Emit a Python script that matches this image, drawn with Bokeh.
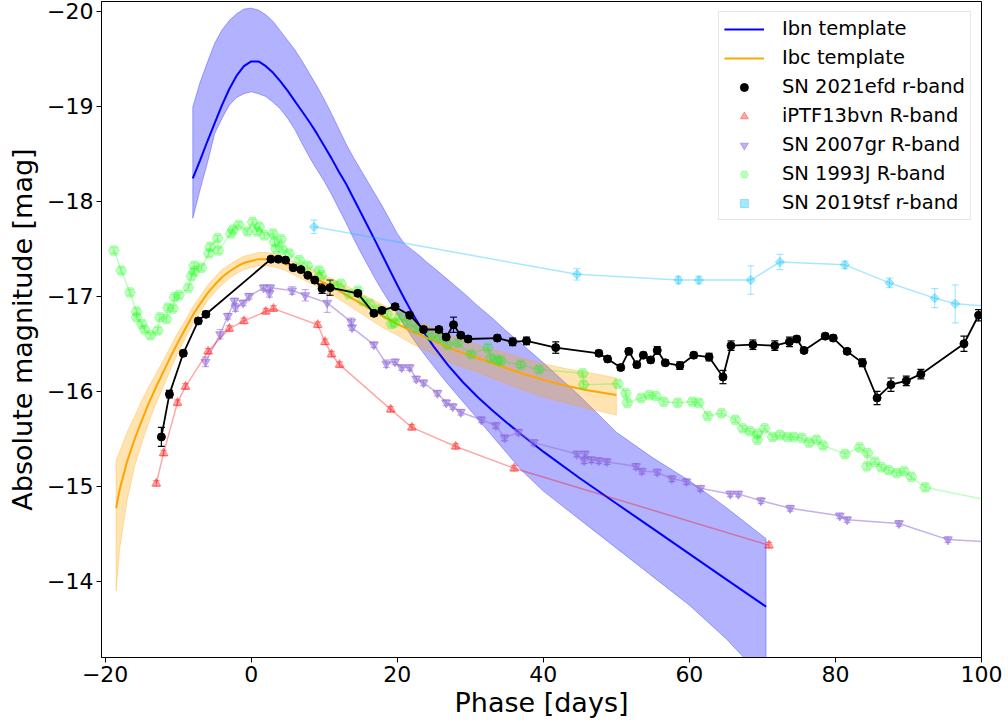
from bokeh.plotting import figure
from bokeh.models import (Range1d, FixedTicker, CustomJSTickFormatter, Whisker, TeeHead,
                          ColumnDataSource, Legend, LegendItem)
from bokeh.embed import file_html
from bokeh.resources import INLINE

# ---------------- data ----------------
# Ibn template (phase, median mag, bright edge, faint edge)
ibn_phase = [-8, -7, -6, -5, -4, -3, -2, -1, 0, 1, 2, 3, 4, 5, 6, 7, 8, 9, 10, 11, 12, 13, 14, 15,
             16, 17, 18, 19, 20, 21, 22, 23, 24, 25, 27, 29, 31, 33, 35, 37, 40, 45, 50, 55, 60, 65, 70.5]
ibn_mag = [-18.24, -18.43, -18.63, -18.82, -19.01, -19.18, -19.32, -19.42, -19.47, -19.47, -19.42, -19.35,
           -19.26, -19.16, -19.05, -18.94, -18.83, -18.71, -18.58, -18.45, -18.31, -18.18, -18.03, -17.88,
           -17.73, -17.58, -17.425, -17.27, -17.118, -16.97, -16.83, -16.70, -16.58, -16.47, -16.27, -16.095,
           -15.94, -15.80, -15.67, -15.545, -15.365, -15.085, -14.82, -14.555, -14.29, -14.025, -13.735]
ibn_upper = [-18.99, -19.25, -19.46, -19.66, -19.80, -19.90, -19.97, -20.02, -20.03, -20.01, -19.96, -19.89,
             -19.79, -19.69, -19.59, -19.47, -19.34, -19.21, -19.07, -18.92, -18.76, -18.60, -18.46, -18.33,
             -18.20, -18.07, -17.94, -17.80, -17.66, -17.55, -17.49, -17.43, -17.36, -17.30, -17.17, -17.04,
             -16.90, -16.77, -16.63, -16.50, -16.30, -15.95, -15.57, -15.30, -15.06, -14.78, -14.45]
ibn_lower = [-17.82, -18.12, -18.40, -18.71, -18.87, -19.01, -19.09, -19.13, -19.15, -19.13, -19.10, -19.04,
             -18.97, -18.87, -18.75, -18.60, -18.46, -18.33, -18.21, -18.07, -17.92, -17.77, -17.61, -17.46,
             -17.32, -17.18, -17.05, -16.93, -16.81, -16.69, -16.57, -16.46, -16.36, -16.26, -16.07, -15.89,
             -15.71, -15.53, -15.35, -15.17, -14.95, -14.65, -14.35, -14.05, -13.75, -13.40, -12.95]

# Ibc template
ibc_phase = [-18.5, -18, -17, -16, -15, -14, -13, -12, -11, -10, -9, -8, -7, -6, -5, -4, -3, -2, -1, 0,
             1, 2, 3, 4, 5, 6, 8, 10, 12, 14, 16, 18, 20, 22, 25, 28, 31, 34, 37, 40, 43, 46, 50]
ibc_mag = [-14.77, -14.97, -15.26, -15.49, -15.69, -15.88, -16.05, -16.21, -16.37, -16.52, -16.66, -16.80,
           -16.92, -17.03, -17.12, -17.20, -17.26, -17.31, -17.35, -17.37, -17.39, -17.39, -17.38, -17.36,
           -17.33, -17.29, -17.22, -17.14, -17.06, -16.97, -16.88, -16.79, -16.71, -16.63, -16.53, -16.43,
           -16.35, -16.27, -16.19, -16.12, -16.06, -16.01, -15.96]
ibc_upper = [-15.27, -15.37, -15.57, -15.73, -15.90, -16.05, -16.19, -16.33, -16.48, -16.62, -16.75, -16.89,
             -17.00, -17.11, -17.20, -17.28, -17.33, -17.38, -17.42, -17.44, -17.46, -17.46, -17.45, -17.43,
             -17.40, -17.36, -17.30, -17.22, -17.15, -17.07, -16.99, -16.91, -16.83, -16.76, -16.66, -16.57,
             -16.49, -16.42, -16.35, -16.29, -16.24, -16.20, -16.14]
ibc_lower = [-13.90, -14.35, -14.85, -15.20, -15.45, -15.68, -15.88, -16.05, -16.24, -16.41, -16.56, -16.71,
             -16.83, -16.95, -17.04, -17.12, -17.19, -17.24, -17.28, -17.30, -17.32, -17.32, -17.31, -17.29,
             -17.26, -17.22, -17.14, -17.06, -16.97, -16.87, -16.77, -16.67, -16.59, -16.50, -16.39, -16.28,
             -16.20, -16.11, -16.02, -15.94, -15.88, -15.82, -15.75]

# SN 2021efd r-band
efd_phase = [-12.3, -11.2, -9.3, -7.25, -6.2, 2.7, 3.7, 4.7, 5.75, 6.8, 7.75, 8.7, 9.7, 10.8, 14.6, 16.8,
             17.9, 19.7, 21.7, 23.6, 25.7, 26.7, 27.7, 28.7, 29.7, 33.7, 35.8, 37.7, 41.7, 47.6, 48.8, 50.6,
             51.7, 52.8, 53.7, 54.7, 55.6, 56.7, 58.7, 60.6, 62.7, 64.6, 65.7, 68.7, 71.7, 73.7, 74.7, 75.7,
             78.6, 79.7, 81.6, 83.7, 85.7, 87.6, 89.7, 91.7, 97.6, 99.6]
efd_mag = [-15.52, -15.97, -16.40, -16.74, -16.81, -17.39, -17.39, -17.38, -17.30, -17.28, -17.22, -17.17,
           -17.08, -17.09, -17.03, -16.82, -16.85, -16.89, -16.80, -16.65, -16.65, -16.57, -16.70, -16.59,
           -16.55, -16.56, -16.52, -16.53, -16.46, -16.40, -16.34, -16.25, -16.42, -16.28, -16.38, -16.33,
           -16.43, -16.30, -16.27, -16.38, -16.36, -16.15, -16.48, -16.49, -16.48, -16.52, -16.55, -16.43,
           -16.58, -16.56, -16.42, -16.30, -15.93, -16.07, -16.11, -16.18, -16.50, -16.80]
efd_err = [0.10, 0.04, 0.03, 0.03, 0.03, 0.02, 0.02, 0.02, 0.03, 0.02, 0.02, 0.03, 0.05, 0.08, 0.03,
           0.03, 0.03, 0.03, 0.03, 0.03, 0.03, 0.03, 0.08, 0.03, 0.03, 0.03, 0.04, 0.04, 0.06, 0.03,
           0.03, 0.03, 0.03, 0.03, 0.03, 0.03, 0.04, 0.03, 0.04, 0.03, 0.04, 0.07, 0.05, 0.05, 0.05,
           0.05, 0.03, 0.03, 0.03, 0.03, 0.03, 0.04, 0.07, 0.07, 0.05, 0.05, 0.08, 0.06]

# iPTF13bvn R-band
bvn_phase = [-13.0, -12.0, -10.1, -9.0, -5.9, -3.0, -1.0, 2.0, 3.05, 9.1, 10.1, 11.0, 12.1, 19.1, 22.0,
             28.0, 36.0, 70.9]
bvn_mag = [-15.03, -15.35, -15.88, -16.05, -16.42, -16.66, -16.74, -16.84, -16.87, -16.70, -16.52, -16.39,
           -16.28, -15.81, -15.62, -15.42, -15.19, -14.38]
bvn_err = [0.03, 0.03, 0.03, 0.03, 0.03, 0.03, 0.03, 0.03, 0.03, 0.03, 0.03, 0.03, 0.03, 0.03, 0.03,
           0.03, 0.03, 0.03]

# SN 2007gr R-band
gr_phase = [-6.25, -4.25, -3.2, -2.3, -2.15, -1.1, -0.3, 1.7, 2.5, 2.6, 5.6, 7.4, 10.4, 13.7, 13.8, 16.8,
            18.5, 19.7, 20.6, 21.7, 22.6, 23.6, 25.5, 26.7, 27.6, 28.7, 31.5, 33.5, 34.7, 36.6, 38.7, 44.6,
            45.6, 45.7, 46.6, 47.6, 48.7, 52.7, 53.5, 55.6, 57.6, 59.6, 61.5, 65.6, 66.7, 69.8, 73.8, 80.6,
            81.6, 88.7, 95.4, 105.0]
gr_mag = [-16.31, -16.60, -16.79, -16.95, -16.88, -16.93, -17.00, -17.09, -17.03, -17.09, -17.06, -17.01,
          -16.93, -16.73, -16.67, -16.49, -16.29, -16.31, -16.25, -16.25, -16.13, -16.09, -15.98, -15.88,
          -15.84, -15.78, -15.70, -15.64, -15.51, -15.57, -15.46, -15.34, -15.27, -15.34, -15.28, -15.27,
          -15.26, -15.21, -15.16, -15.15, -15.08, -15.05, -14.98, -14.92, -14.92, -14.85, -14.77, -14.69,
          -14.65, -14.61, -14.44, -14.40]
gr_err = [0.05, 0.05, 0.03, 0.03, 0.04, 0.03, 0.03, 0.03, 0.04, 0.03, 0.04, 0.06, 0.10, 0.04, 0.03,
          0.03, 0.04, 0.03, 0.03, 0.03, 0.03, 0.03, 0.03, 0.03, 0.03, 0.03, 0.03, 0.03, 0.03, 0.03,
          0.03, 0.03, 0.03, 0.03, 0.03, 0.03, 0.03, 0.03, 0.03, 0.03, 0.03, 0.03, 0.03, 0.03, 0.03,
          0.03, 0.03, 0.03, 0.03, 0.03, 0.03, 0.03]

# SN 1993J R-band
j_phase = [-18.8, -17.8, -16.6, -15.7, -15.7, -15.0, -14.6, -13.8, -12.8, -12.5, -11.6, -11.4, -10.7, -10.5,
           -9.9, -8.6, -8.2, -7.8, -7.8, -6.8, -5.8, -5.6, -4.6, -4.5, -2.8, -2.5, -1.7, -0.5, 0.2, 0.8,
           1.1, 1.8, 3.0, 3.2, 3.4, 4.1, 4.3, 5.2, 6.6, 7.7, 9.3, 9.6, 11.4, 12.3, 13.4, 14.6, 15.3, 16.2,
           17.3, 18.6, 19.2, 19.6, 20.3, 21.4, 22.6, 24.6, 25.8, 26.9, 28.3, 30.1, 32.4, 32.8, 33.7, 34.2,
           36.9, 39.4, 45.4, 45.5, 50.2, 51.3, 51.5, 53.4, 54.5, 55.4, 56.5, 58.4, 60.4, 61.3, 62.5, 64.4,
           66.3, 67.3, 68.3, 69.3, 69.3, 70.3, 71.4, 72.4, 73.4, 74.3, 75.4, 76.4, 77.4, 78.3, 81.3, 83.3,
           84.4, 84.3, 85.4, 86.3, 87.3, 88.4, 89.4, 90.4, 92.3, 110.0]
j_mag = [-17.48, -17.27, -17.04, -16.84, -16.78, -16.71, -16.65, -16.59, -16.64, -16.78, -16.76, -16.88,
         -16.87, -16.99, -17.01, -17.09, -17.21, -17.26, -17.32, -17.30, -17.45, -17.52, -17.61, -17.48,
         -17.66, -17.70, -17.75, -17.68, -17.78, -17.68, -17.73, -17.64, -17.66, -17.57, -17.50, -17.60,
         -17.49, -17.45, -17.38, -17.32, -17.27, -17.22, -17.11, -17.13, -17.02, -17.06, -16.95, -16.92,
         -16.86, -16.81, -16.71, -16.72, -16.78, -16.72, -16.66, -16.58, -16.56, -16.49, -16.51, -16.39,
         -16.46, -16.35, -16.33, -16.32, -16.28, -16.23, -16.19, -16.07, -16.08, -15.98, -15.88, -15.93,
         -15.96, -15.95, -15.89, -15.88, -15.89, -15.88, -15.74, -15.77, -15.70, -15.61, -15.58, -15.55,
         -15.49, -15.61, -15.52, -15.54, -15.52, -15.52, -15.51, -15.46, -15.49, -15.43, -15.34, -15.41,
         -15.35, -15.21, -15.26, -15.20, -15.17, -15.14, -15.16, -15.10, -14.99, -14.71]
j_err = [0.03] * len(j_phase)

# SN 2019tsf r-band
tsf_phase = [8.6, 44.6, 58.5, 61.3, 68.4, 72.4, 81.3, 87.4, 93.6, 96.4, 105.0]
tsf_mag = [-17.73, -17.23, -17.17, -17.17, -17.17, -17.36, -17.33, -17.14, -16.98, -16.92, -16.87]
tsf_err = [0.07, 0.06, 0.04, 0.04, 0.15, 0.08, 0.04, 0.05, 0.10, 0.20, 0.05]

x_ticks = [-20, 0, 20, 40, 60, 80, 100]
y_ticks = [-20, -19, -18, -17, -16, -15, -14]

# ---------------- figure ----------------
FONT = "DejaVu Sans"
p = figure(width=1008, height=724, output_backend="svg", toolbar_location=None,
           x_range=Range1d(-20.5, 100), y_range=Range1d(-13.2, -20.1),
           min_border_left=101, min_border_right=27, min_border_top=1, min_border_bottom=67,
           background_fill_color="white", border_fill_color="white")

p.grid.visible = False
p.outline_line_color = "black"
p.outline_line_width = 1
p.outline_line_alpha = 1

minus_fmt = "return (tick < 0 ? '\\u2212' : '') + Math.abs(tick).toFixed(0);"
p.xaxis.ticker = FixedTicker(ticks=x_ticks)
p.yaxis.ticker = FixedTicker(ticks=y_ticks)
p.xaxis.formatter = CustomJSTickFormatter(code=minus_fmt)
p.yaxis.formatter = CustomJSTickFormatter(code=minus_fmt)
p.xaxis.axis_label = "Phase [days]"
p.yaxis.axis_label = "Absolute magnitude [mag]"
for ax in (p.xaxis, p.yaxis):
    ax.major_label_text_font = FONT
    ax.major_label_text_font_size = "22px"
    ax.major_label_text_color = "black"
    ax.axis_label_text_font = FONT
    ax.axis_label_text_font_size = "27px"
    ax.axis_label_text_font_style = "normal"
    ax.axis_label_text_color = "black"
    ax.minor_tick_line_color = None
    ax.major_tick_out = 5
    ax.major_tick_in = 0
    ax.major_tick_line_color = "black"
    ax.axis_line_color = "black"
p.xaxis.major_label_standoff = 3
p.xaxis.axis_label_standoff = 2
p.yaxis.major_label_standoff = 3
p.yaxis.axis_label_standoff = 6


def band(px, lo, hi, color):
    xs = list(px) + list(px)[::-1]
    ys = list(hi) + list(lo)[::-1]
    p.patch(xs, ys, fill_color=color, fill_alpha=0.3, line_color=color, line_alpha=0.3, line_width=1)


band(ibn_phase, ibn_lower, ibn_upper, "blue")
band(ibc_phase, ibc_lower, ibc_upper, "orange")
r_ibn = p.line(ibn_phase, ibn_mag, line_color="blue", line_width=2)
r_ibc = p.line(ibc_phase, ibc_mag, line_color="orange", line_width=2)


def series(px, mag, err, color, alpha, marker, size, angle=0.0, lw=1.5):
    src = ColumnDataSource(dict(x=px, y=mag,
                                lower=[m - e for m, e in zip(mag, err)],
                                upper=[m + e for m, e in zip(mag, err)]))
    p.line("x", "y", source=src, line_color=color, line_alpha=alpha, line_width=lw)
    w = Whisker(source=src, base="x", lower="lower", upper="upper", dimension="height",
                line_color=color, line_alpha=alpha, line_width=1.2,
                upper_head=TeeHead(size=7, line_color=color, line_alpha=alpha, line_width=1.2),
                lower_head=TeeHead(size=7, line_color=color, line_alpha=alpha, line_width=1.2))
    p.add_layout(w)
    r = p.scatter("x", "y", source=src, marker=marker, size=size, angle=angle,
                  fill_color=color, fill_alpha=alpha, line_color=color, line_alpha=alpha, line_width=1)
    return r


r_j = series(j_phase, j_mag, j_err, "lime", 0.25, "hex", 11)
r_tsf = series(tsf_phase, tsf_mag, tsf_err, "deepskyblue", 0.35, "square", 6.5, angle=0.785398)
r_gr = series(gr_phase, gr_mag, gr_err, "mediumpurple", 0.55, "inverted_triangle", 9)
r_bvn = series(bvn_phase, bvn_mag, bvn_err, "red", 0.35, "triangle", 9)
r_efd = series(efd_phase, efd_mag, efd_err, "black", 1.0, "circle", 8, lw=1.8)

legend = Legend(items=[
    LegendItem(label="Ibn template", renderers=[r_ibn]),
    LegendItem(label="Ibc template", renderers=[r_ibc]),
    LegendItem(label="SN 2021efd r-band", renderers=[r_efd]),
    LegendItem(label="iPTF13bvn R-band", renderers=[r_bvn]),
    LegendItem(label="SN 2007gr R-band", renderers=[r_gr]),
    LegendItem(label="SN 1993J R-band", renderers=[r_j]),
    LegendItem(label="SN 2019tsf r-band", renderers=[r_tsf]),
], location="top_right")
legend.label_text_font = FONT
legend.label_text_font_size = "19.5px"
legend.label_text_color = "black"
legend.glyph_width = 40
legend.glyph_height = 20
legend.label_height = 20
legend.spacing = 6
legend.padding = 5
legend.margin = 10
legend.label_standoff = 18
legend.border_line_color = "#cccccc"
legend.border_line_width = 1
legend.background_fill_color = "white"
legend.background_fill_alpha = 0.8
p.add_layout(legend)

open("out.html", "w").write(file_html(p, INLINE))
